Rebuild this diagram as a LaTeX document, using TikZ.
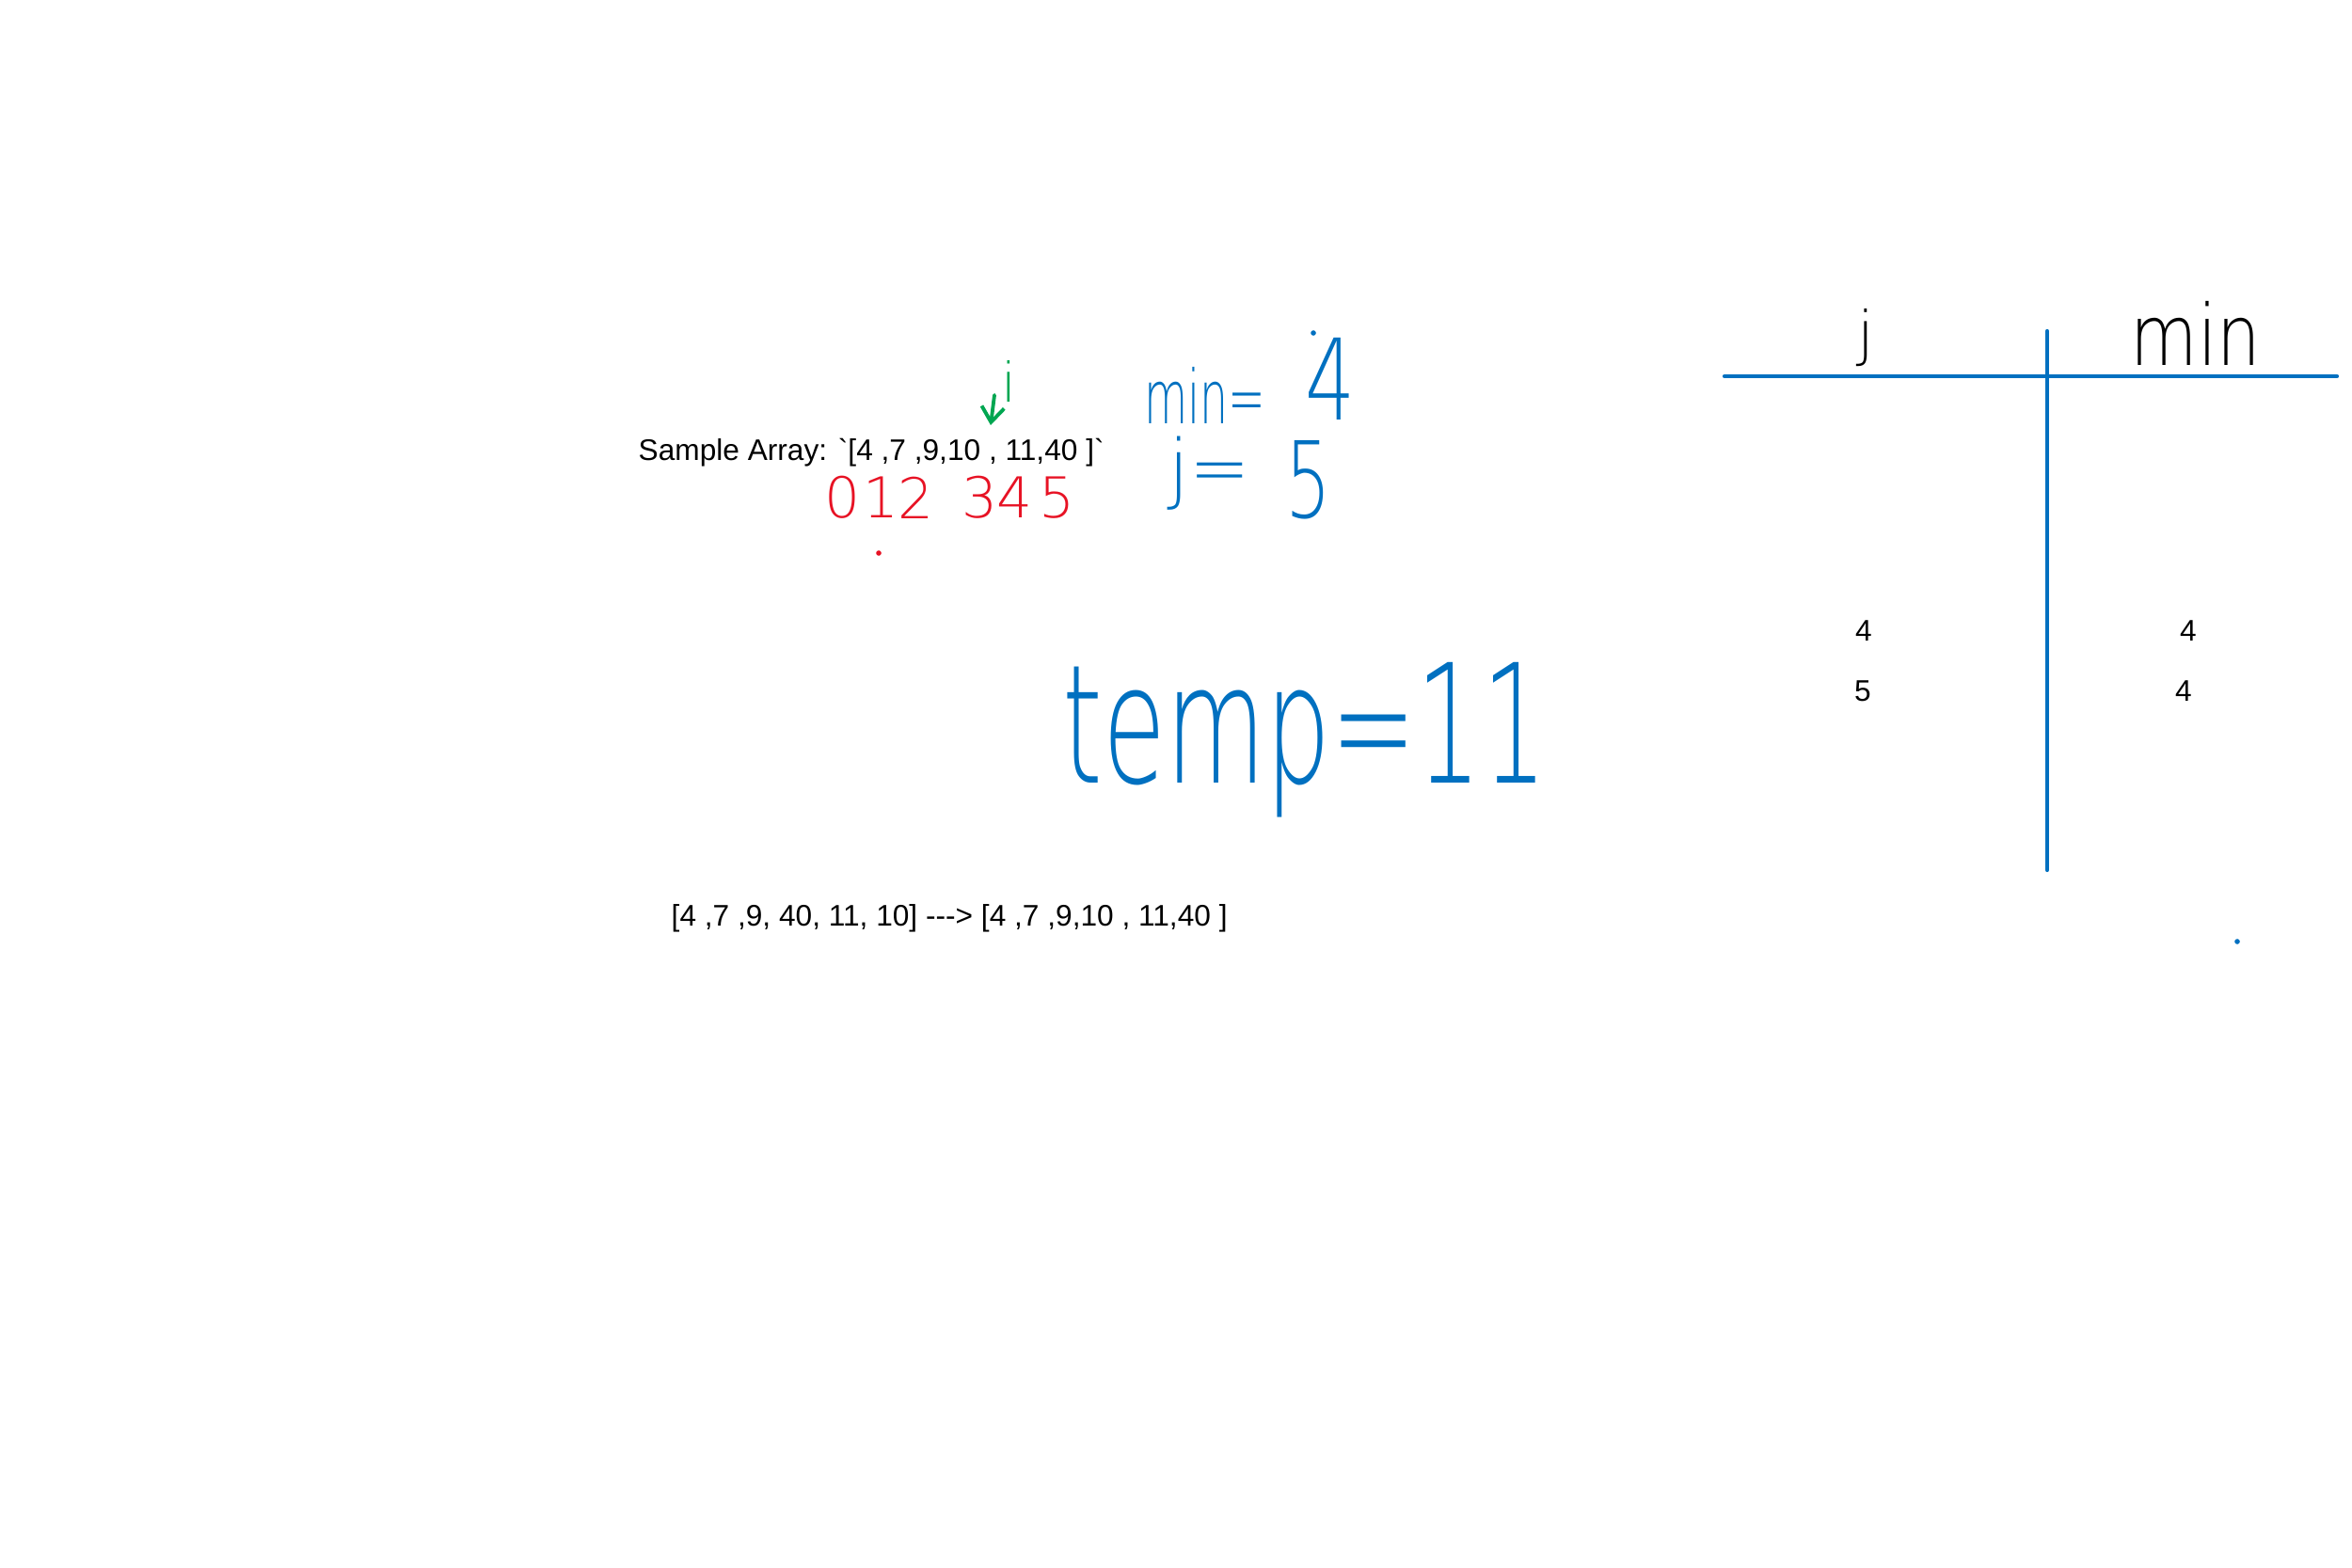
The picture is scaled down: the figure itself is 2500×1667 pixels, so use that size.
\documentclass[tikz,border=0pt]{standalone}
\usepackage{fontspec}
\usepackage{xcolor}
\usepackage{tikz}
\usetikzlibrary{arrows.meta,positioning}
\setmainfont{Liberation Sans}
\IfFontExistsTF{DejaVu Sans ExtraLight}
  {\newfontfamily\inkfont{DejaVu Sans ExtraLight}}
  {\newfontfamily\inkfont{DejaVu Sans}}
\definecolor{inkblue}{HTML}{0070C0}
\definecolor{inkred}{HTML}{E71224}
\definecolor{inkgreen}{HTML}{00A651}

\begin{document}
\begin{tikzpicture}[x=0.01cm, y=-0.01cm,
  note/.style={font=\fontsize{9}{10}\selectfont, inner sep=0pt, text=black},
  ink/.style={inner sep=0pt, text=inkblue},
  idx/.style={inner sep=0pt, text=inkred, font=\inkfont\fontsize{17}{17}\selectfont},
  head/.style={inner sep=0pt, text=black},
  rule/.style={draw=inkblue, line width=1.2pt, line cap=round},
  ptrarr/.style={-{Straight Barb[length=1.6mm, width=2.4mm]}, draw=inkgreen, line width=1.1pt, line cap=round}
]
\useasboundingbox (0,0) rectangle (2500,1667);

% sample array with its indices
\node[note, anchor=base west] (sample) at (678,490)
  {Sample Array: \textasciigrave[4 ,7 ,9,10 , 11,40 ]\textasciigrave};
\node[idx] (n0) at (896,529) {0};
\node[idx] (n1) at (937,529) {1};
\node[idx] (n2) at (974,529) {2};
\node[idx] (n3) at (1042,529) {3};
\node[idx] (n4) at (1079,529) {4};
\node[idx] (n5) at (1124,529) {5};
\fill[inkred] (934,588) circle[radius=0.8pt];

% pointer i
\node[inner sep=0pt, text=inkgreen, font=\inkfont\fontsize{16.5}{16.5}\selectfont] (ilbl) at (1073,405) {i};
\coordinate (itop) at (1057,420);
\coordinate (itip) at (1053,452);
\draw[ptrarr] (itop) -- (itip);

% current values
\node[ink, font=\inkfont\fontsize{22.5}{22.5}\selectfont, anchor=base west, xscale=0.6] (minlbl) at (1216,450) {min=};
\node[ink, font=\inkfont\fontsize{34}{34}\selectfont, anchor=base west, xscale=0.7] (minval) at (1387,446) {4};
\node[ink, font=\inkfont\fontsize{23}{23}\selectfont, anchor=base west, xscale=0.95] (jlbl) at (1242,525) {j=};
\node[ink, font=\inkfont\fontsize{32}{32}\selectfont, anchor=base west, xscale=0.68] (jval) at (1366,550) {5};
\fill[inkblue] (1396,354) circle[radius=0.8pt];

\node[ink, font=\inkfont\fontsize{50}{50}\selectfont, anchor=base west, xscale=0.62] (temp) at (1129,832) {temp=11};

% result after swap
\node[note, anchor=base west] (swap) at (713,984)
  {[4 ,7 ,9, 40, 11, 10] -{}-{}-> [4 ,7 ,9,10 , 11,40 ]};

% trace table
\coordinate (hl) at (1833,400);
\coordinate (hr) at (2484,400);
\coordinate (vt) at (2176,352);
\coordinate (vb) at (2176,925);
\draw[rule] (hl) -- (hr);
\draw[rule] (vt) -- (vb);
\node[head, font=\inkfont\fontsize{18}{18}\selectfont] (jhead) at (1983,359) {j};
\node[head, font=\inkfont\fontsize{25.5}{25.5}\selectfont, anchor=base west, xscale=0.82] (minhead) at (2264,389) {min};
\node[note] (j1) at (1981,671) {4};
\node[note] (j2) at (1980,735) {5};
\node[note] (m1) at (2326,671) {4};
\node[note] (m2) at (2321,735) {4};
\fill[inkblue] (2378,1001) circle[radius=0.8pt];

\end{tikzpicture}
\end{document}
